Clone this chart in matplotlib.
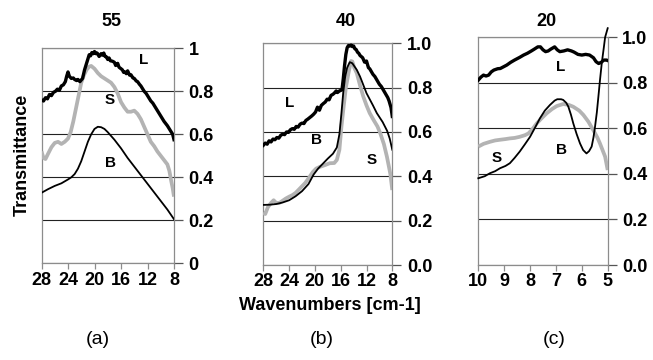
import numpy as np
import matplotlib
matplotlib.use("Agg")
import matplotlib.pyplot as plt

plt.rcParams['font.family'] = ['Liberation Sans', 'DejaVu Sans']

# panel (a): 55
wn_L_a = [28, 27.7, 27.4, 27.1, 26.8, 26.5, 26.2, 25.9, 25.6, 25.3, 25.0, 24.7, 24.4, 24.2,
          24.0, 23.8, 23.5, 23.2, 23, 22.7, 22.5, 22.2, 21.8, 21.5, 21.2, 20.8, 20.6, 20.4,
          20.2, 20.0, 19.8, 19.6, 19.3, 19.0, 18.8, 18.6, 18.4, 18.2, 18.0, 17.8, 17.6, 17.3,
          17.0, 16.8, 16.5, 16.3, 16.0, 15.8, 15.6, 15.4, 15.2, 15.0, 14.7, 14.5, 14.2, 14.0,
          13.7, 13.5, 13.2, 13.0, 12.7, 12.5, 12.2, 12.0, 11.7, 11.5, 11.2, 11.0, 10.7, 10.5,
          10.2, 10.0, 9.7, 9.5, 9.2, 9.0, 8.7, 8.5, 8.2, 8.0]
tr_L_a = [0.76, 0.755, 0.77, 0.765, 0.785, 0.78, 0.795, 0.80, 0.81, 0.805, 0.825, 0.83, 0.845,
          0.87, 0.89, 0.87, 0.86, 0.862, 0.855, 0.85, 0.855, 0.845, 0.86, 0.90, 0.93, 0.97,
          0.965, 0.98, 0.975, 0.985, 0.975, 0.978, 0.962, 0.975, 0.968, 0.978, 0.962, 0.96,
          0.948, 0.955, 0.942, 0.94, 0.935, 0.92, 0.93, 0.912, 0.905, 0.90, 0.888, 0.89, 0.882,
          0.895, 0.875, 0.877, 0.862, 0.86, 0.848, 0.845, 0.832, 0.825, 0.81, 0.80, 0.79, 0.78,
          0.765, 0.755, 0.745, 0.735, 0.72, 0.71, 0.695, 0.685, 0.67, 0.66, 0.648, 0.64, 0.625,
          0.615, 0.60, 0.575]

wn_S_a = [28, 27.7, 27.4, 27, 26.5, 26, 25.5, 25, 24.5, 24, 23.6, 23.2, 22.8, 22.4, 22, 21.6,
          21.2, 20.8, 20.5, 20.0, 19.5, 19.0, 18.5, 18.0, 17.5, 17.0, 16.5, 16.0, 15.5, 15.0,
          14.5, 14.0, 13.5, 13.0, 12.5, 12.0, 11.5, 11.0, 10.5, 10.0, 9.5, 9.0, 8.7, 8.4, 8.2, 8.0]
tr_S_a = [0.52, 0.49, 0.485, 0.51, 0.54, 0.56, 0.565, 0.555, 0.565, 0.58, 0.61, 0.66, 0.72,
          0.78, 0.84, 0.875, 0.90, 0.915, 0.918, 0.905, 0.885, 0.87, 0.86, 0.85, 0.84, 0.82,
          0.79, 0.75, 0.725, 0.705, 0.705, 0.71, 0.695, 0.67, 0.635, 0.60, 0.565, 0.545, 0.52,
          0.50, 0.48, 0.46, 0.43, 0.38, 0.35, 0.31]

wn_B_a = [28, 27, 26, 25, 24, 23.5, 23, 22.5, 22, 21.5, 21, 20.5, 20, 19.5, 19, 18.5, 18, 17,
          16, 15, 14, 13, 12, 11, 10, 9, 8]
tr_B_a = [0.328, 0.345, 0.36, 0.372, 0.39, 0.40, 0.415, 0.44, 0.475, 0.52, 0.565, 0.60, 0.625,
          0.635, 0.633, 0.625, 0.61, 0.575, 0.535, 0.49, 0.45, 0.41, 0.37, 0.33, 0.29, 0.25, 0.205]

# panel (b): 40
wn_L_b = [28, 27.7, 27.4, 27.1, 26.8, 26.5, 26.2, 25.9, 25.6, 25.3, 25, 24.7, 24.4, 24.1,
          23.8, 23.5, 23.2, 22.9, 22.6, 22.3, 22, 21.7, 21.4, 21.1, 20.8, 20.5, 20.2, 19.9,
          19.6, 19.3, 19.0, 18.7, 18.4, 18.1, 17.8, 17.5, 17.2, 17, 16.7, 16.5, 16.2, 15.8,
          15.6, 15.4, 15.2, 15.0, 14.8, 14.6, 14.4, 14.2, 14.0, 13.8, 13.6, 13.4, 13.2, 13.0,
          12.8, 12.6, 12.3, 12.0, 11.7, 11.5, 11.3, 11.0, 10.7, 10.5, 10.2, 10.0, 9.7, 9.5,
          9.2, 9.0, 8.7, 8.5, 8.2, 8.0]
tr_L_b = [0.54, 0.55, 0.545, 0.56, 0.555, 0.568, 0.565, 0.575, 0.572, 0.585, 0.59, 0.588, 0.60,
          0.598, 0.61, 0.615, 0.612, 0.625, 0.622, 0.635, 0.64, 0.638, 0.652, 0.658, 0.665,
          0.672, 0.68, 0.69, 0.712, 0.698, 0.72, 0.728, 0.735, 0.748, 0.745, 0.765, 0.77,
          0.775, 0.785, 0.778, 0.785, 0.79, 0.84, 0.90, 0.95, 0.98, 0.99, 0.988, 0.992, 0.985,
          0.988, 0.975, 0.972, 0.96, 0.955, 0.945, 0.94, 0.935, 0.915, 0.92, 0.89, 0.885,
          0.875, 0.86, 0.85, 0.84, 0.825, 0.815, 0.805, 0.795, 0.78, 0.77, 0.755, 0.74, 0.71,
          0.67]

wn_B_b = [28, 27, 26, 25, 24, 23, 22, 21, 20.2, 19.5, 18.7, 18, 17.2, 16.6, 16.2, 15.9, 15.6,
          15.3, 15.0, 14.6, 14.2, 13.5, 13, 12, 11, 10.4, 9.5, 8.8, 8.4, 8.0]
tr_B_b = [0.271, 0.272, 0.275, 0.282, 0.292, 0.31, 0.333, 0.365, 0.408, 0.435, 0.459, 0.48,
          0.502, 0.53, 0.59, 0.68, 0.78, 0.85, 0.89, 0.915, 0.91, 0.88, 0.85, 0.775, 0.72,
          0.685, 0.645, 0.605, 0.57, 0.52]

wn_S_b = [28, 27.7, 27.3, 26.8, 26.4, 26.0, 25.5, 25, 24.5, 24, 23.5, 23, 22.3, 21.5, 21,
          20.3, 19.8, 19.2, 18.5, 17.7, 17, 16.6, 16.2, 15.9, 15.6, 15.2, 14.8, 14.4, 14.2,
          13.9, 13.5, 13.0, 12.5, 12.0, 11.5, 10.9, 10.3, 9.86, 9.3, 8.83, 8.5, 8.3, 8.0]
tr_S_b = [0.235, 0.23, 0.26, 0.28, 0.292, 0.28, 0.28, 0.29, 0.30, 0.308, 0.315, 0.325, 0.346,
          0.37, 0.39, 0.42, 0.435, 0.443, 0.45, 0.459, 0.46, 0.474, 0.52, 0.62, 0.70, 0.80,
          0.865, 0.92, 0.918, 0.89, 0.865, 0.81, 0.76, 0.72, 0.685, 0.654, 0.625, 0.594, 0.545,
          0.488, 0.44, 0.41, 0.338]

# panel (c): 20
wn_L_c = [10, 9.9, 9.8, 9.7, 9.6, 9.5, 9.4, 9.25, 9.15, 9.0, 8.9, 8.75, 8.6, 8.4, 8.25, 8.1,
          7.95, 7.85, 7.7, 7.6, 7.5, 7.4, 7.3, 7.2, 7.05, 6.95, 6.85, 6.7, 6.55, 6.4, 6.3, 6.15,
          6.0, 5.85, 5.7, 5.55, 5.45, 5.35, 5.25, 5.15, 5.05, 5.0]
tr_L_c = [0.812, 0.825, 0.834, 0.83, 0.834, 0.848, 0.856, 0.862, 0.863, 0.872, 0.878, 0.89,
          0.90, 0.912, 0.922, 0.93, 0.94, 0.947, 0.958, 0.958, 0.945, 0.937, 0.94, 0.948, 0.958,
          0.945, 0.937, 0.94, 0.945, 0.94, 0.935, 0.925, 0.922, 0.925, 0.922, 0.91, 0.893,
          0.885, 0.89, 0.9, 0.9, 0.898]

wn_B_c = [10, 9.75, 9.55, 9.35, 9.16, 8.95, 8.78, 8.6, 8.4, 8.2, 8.0, 7.8, 7.62, 7.43, 7.23,
          7.05, 6.95, 6.8, 6.72, 6.6, 6.52, 6.42, 6.33, 6.2, 6.07, 5.95, 5.82, 5.72, 5.62, 5.55,
          5.49, 5.42, 5.36, 5.3, 5.23, 5.15, 5.1, 5.0]
tr_B_c = [0.381, 0.39, 0.403, 0.412, 0.425, 0.435, 0.447, 0.47, 0.498, 0.53, 0.563, 0.605,
          0.644, 0.678, 0.703, 0.722, 0.728, 0.728, 0.725, 0.712, 0.695, 0.66, 0.622, 0.575,
          0.534, 0.505, 0.49, 0.5, 0.52, 0.56, 0.607, 0.67, 0.739, 0.81, 0.886, 0.955, 1.0, 1.04]

wn_S_c = [10, 9.8, 9.55, 9.35, 9.16, 8.95, 8.78, 8.6, 8.4, 8.2, 8.06, 7.9, 7.74, 7.55, 7.36,
          7.15, 6.97, 6.72, 6.5, 6.33, 6.1, 5.94, 5.75, 5.56, 5.4, 5.3, 5.2, 5.1, 5.0]
tr_S_c = [0.52, 0.532, 0.541, 0.547, 0.55, 0.553, 0.556, 0.558, 0.563, 0.57, 0.578, 0.598,
          0.622, 0.645, 0.666, 0.685, 0.698, 0.707, 0.703, 0.695, 0.678, 0.659, 0.63, 0.593,
          0.56, 0.534, 0.505, 0.476, 0.417]

GRAY = '#b3b3b3'
FRAME = '#8c8c8c'

fig = plt.figure(figsize=(6.53, 3.6), dpi=100)


def setup_panel(ax, xlim, xticks, ylabels):
    ax.set_xlim(*xlim)
    ax.set_ylim(0, 1)
    ax.set_xticks(xticks)
    ax.set_xticklabels([str(t) for t in xticks], fontsize=13, fontweight='bold')
    ax.set_yticks(np.arange(0, 1.01, 0.2))
    ax.set_yticklabels(ylabels, fontsize=13, fontweight='bold')
    ax.yaxis.tick_right()
    ax.tick_params(axis='x', direction='out', length=4, width=0.9, color=FRAME, pad=2)
    ax.tick_params(axis='y', direction='out', length=6.5, width=0.9, color='#555555', pad=4)
    ax.yaxis.grid(True, color='#222222', lw=0.8)
    ax.set_axisbelow(True)
    for sp in ax.spines.values():
        sp.set_color(FRAME)
        sp.set_linewidth(0.9)


def draw_curves(ax, L, S, B, clip_b=True):
    ax.plot(*S, color=GRAY, lw=2.7, solid_capstyle='butt', zorder=3)
    ax.plot(*B, color='black', lw=1.3, zorder=4, clip_on=clip_b)
    ax.plot(*L, color='black', lw=2.4, zorder=5)


lbl = dict(fontsize=11, fontweight='bold', ha='center', va='center', zorder=6)

# (a)
ax_a = fig.add_axes([41.5 / 653, 1 - 263.3 / 360, 132.5 / 653, 215 / 360])
setup_panel(ax_a, (28, 8), [28, 24, 20, 16, 12, 8], ['0', '0.2', '0.4', '0.6', '0.8', '1'])
draw_curves(ax_a, (wn_L_a, tr_L_a), (wn_S_a, tr_S_a), (wn_B_a, tr_B_a))
ax_a.text(12.66, 0.946, 'L', **lbl)
ax_a.text(17.66, 0.76, 'S', **lbl)
ax_a.text(17.66, 0.465, 'B', **lbl)

# (b)
yl = ['0.0', '0.2', '0.4', '0.6', '0.8', '1.0']
ax_b = fig.add_axes([263.3 / 653, 1 - 265 / 360, 129 / 653, 221.7 / 360])
setup_panel(ax_b, (28, 8), [28, 24, 20, 16, 12, 8], yl)
draw_curves(ax_b, (wn_L_b, tr_L_b), (wn_S_b, tr_S_b), (wn_B_b, tr_B_b))
ax_b.text(23.86, 0.729, 'L', **lbl)
ax_b.text(19.72, 0.564, 'B', **lbl)
ax_b.text(11.2, 0.474, 'S', **lbl)

# (c)
ax_c = fig.add_axes([478.3 / 653, 1 - 265 / 360, 129.4 / 653, 227.7 / 360])
setup_panel(ax_c, (10, 5), [10, 9, 8, 7, 6, 5], yl)
draw_curves(ax_c, (wn_L_c, tr_L_c), (wn_S_c, tr_S_c), (wn_B_c, tr_B_c), clip_b=False)
ax_c.text(6.82, 0.871, 'L', **lbl)
ax_c.text(6.78, 0.505, 'B', **lbl)
ax_c.text(9.29, 0.469, 'S', **lbl)

# panel titles and shared labels
for x, t in [(111.7, '55'), (346, '40'), (546.7, '20')]:
    fig.text(x / 653, 1 - 21 / 360, t, fontsize=13, fontweight='bold', ha='center', va='center')
fig.text(22 / 653, 1 - 155 / 360, 'Transmittance', fontsize=13, fontweight='bold',
         rotation=90, ha='center', va='center')
fig.text(330 / 653, 1 - 306 / 360, 'Wavenumbers [cm-1]', fontsize=13, fontweight='bold',
         ha='center', va='center')
for x, t in [(98, '(a)'), (322, '(b)'), (554, '(c)')]:
    fig.text(x / 653, 1 - 340 / 360, t, fontsize=14, ha='center', va='center')

fig.savefig('out.png', dpi=100)
